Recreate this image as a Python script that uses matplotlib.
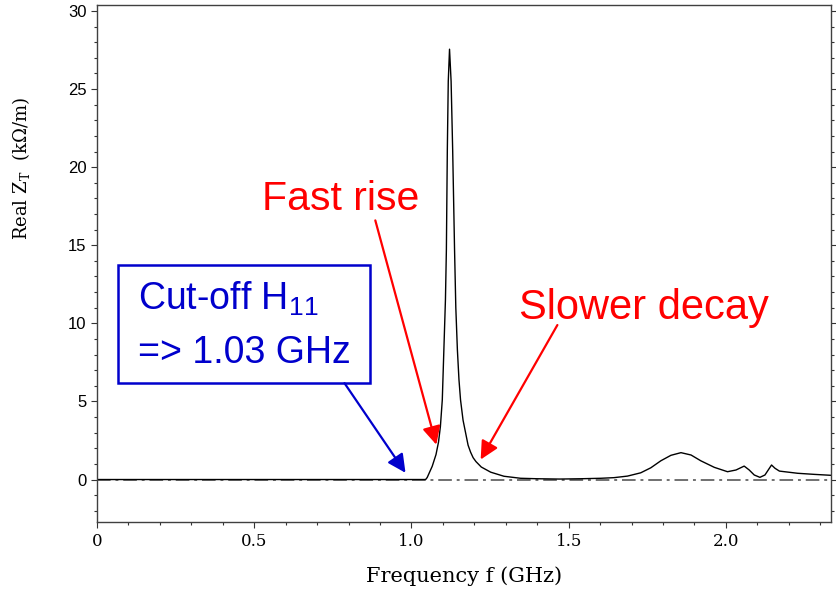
import numpy as np
import matplotlib
matplotlib.use("Agg")
import matplotlib.pyplot as plt
from matplotlib.ticker import MultipleLocator

# values (GHz, kOhm/m)
freq = [0.0, 1.045, 1.050, 1.066, 1.078, 1.086, 1.092, 1.098, 1.103, 1.108,
        1.111, 1.114, 1.117, 1.121, 1.126, 1.131, 1.137, 1.141, 1.146, 1.151,
        1.156, 1.164, 1.172, 1.180, 1.188, 1.196, 1.205, 1.222, 1.252, 1.294,
        1.347, 1.400, 1.470, 1.538, 1.602, 1.644, 1.687, 1.729, 1.761, 1.793,
        1.825, 1.857, 1.889, 1.920, 1.963, 2.005, 2.032, 2.058, 2.074, 2.090,
        2.108, 2.124, 2.145, 2.156, 2.170, 2.228, 2.281, 2.334]
real_zt = [0.0, 0.0, 0.13, 0.85, 1.6, 2.4, 3.4, 5.1, 8.3, 11.5,
           14.7, 21.1, 25.5, 27.55, 25.5, 21.1, 14.7, 11.0, 8.3, 6.4,
           5.1, 3.8, 3.0, 2.2, 1.75, 1.4, 1.15, 0.8, 0.47, 0.21,
           0.08, 0.05, 0.03, 0.05, 0.08, 0.12, 0.22, 0.43, 0.75, 1.2,
           1.55, 1.72, 1.57, 1.2, 0.78, 0.5, 0.61, 0.86, 0.61, 0.29,
           0.14, 0.29, 0.93, 0.72, 0.54, 0.4, 0.33, 0.27]

x_range = (0, 2.334)
y_range = (-2.75, 30.38)

serif = dict(family="DejaVu Serif")

fig = plt.figure(figsize=(8.37, 5.94), dpi=100)
ax = fig.add_axes([0.1159, 0.1204, 0.8769, 0.8712])

ax.axhline(0, color="#707070", lw=1.4, ls=(0, (7, 2.5, 1.5, 2.5)), zorder=1)
ax.plot(freq, real_zt, color="black", lw=1.0, zorder=2)

ax.set_xlim(*x_range)
ax.set_ylim(*y_range)

ax.xaxis.set_major_locator(MultipleLocator(0.5))
ax.xaxis.set_minor_locator(MultipleLocator(0.1))
ax.yaxis.set_major_locator(MultipleLocator(5))
ax.yaxis.set_minor_locator(MultipleLocator(1))
ax.set_xticks([0, 0.5, 1.0, 1.5, 2.0])
ax.set_xticklabels(["0", "0.5", "1.0", "1.5", "2.0"], fontdict=serif, fontsize=12)
ax.tick_params(axis="y", which="both", direction="out", left=True, right=True,
               labelsize=12, colors="#333333", labelcolor="black")
ax.tick_params(axis="x", which="both", direction="out", top=False,
               colors="#333333", labelcolor="black")
ax.tick_params(which="major", length=4, width=0.8)
ax.tick_params(which="minor", length=2.5, width=0.8)
for lab in ax.get_yticklabels():
    lab.set_family("Liberation Sans")
for sp in ax.spines.values():
    sp.set_color("#404040")
    sp.set_linewidth(1.0)

ax.set_xlabel("Frequency f (GHz)", fontdict=serif, fontsize=15, labelpad=12)
ax.set_ylabel(r"Real $\mathregular{Z_T}$  (k$\mathregular{\Omega}$/m)",
              fontdict=serif, fontsize=13)
ax.yaxis.set_label_coords(-0.088, 0.685)

# annotations
red = "#ff0000"
blue = "#0000cc"
arrow_red = dict(arrowstyle="-|>,head_length=1.1,head_width=0.55", color=red,
                 lw=1.6, shrinkA=0, shrinkB=0)
arrow_blue = dict(arrowstyle="-|>,head_length=1.1,head_width=0.55", color=blue,
                  lw=1.6, shrinkA=0, shrinkB=0)

ax.text(0.526, 17.23, "Fast rise", color=red, fontsize=29.5,
        family="Liberation Sans", ha="left", va="baseline")
ax.annotate("", xy=(1.079, 2.23), xytext=(0.885, 16.59), arrowprops=arrow_red)

ax.text(1.341, 10.27, "Slower decay", color=red, fontsize=30,
        family="Liberation Sans", ha="left", va="baseline")
ax.annotate("", xy=(1.220, 1.28), xytext=(1.464, 9.89), arrowprops=arrow_red)

box = plt.Rectangle((0.068, 6.17), 0.867 - 0.068, 13.72 - 6.17, fill=True,
                    facecolor="white", edgecolor=blue, lw=1.8, zorder=3)
ax.add_patch(box)
ax.text(0.131, 10.85, r"Cut-off H$\mathregular{_{11}}$", color=blue, fontsize=27,
        family="Liberation Sans", ha="left", va="baseline", zorder=4)
ax.text(0.131, 7.47, "=> 1.03 GHz", color=blue, fontsize=27,
        family="Liberation Sans", ha="left", va="baseline", zorder=4)
ax.annotate("", xy=(0.981, 0.43), xytext=(0.787, 6.17), arrowprops=arrow_blue)

fig.savefig("out.png", dpi=100)
